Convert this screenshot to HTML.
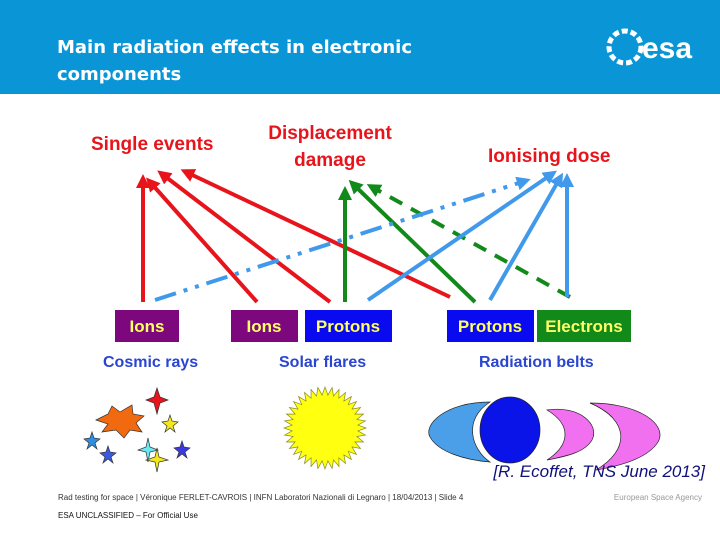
<!DOCTYPE html>
<html><head><meta charset="utf-8"><style>
body{margin:0;width:720px;height:540px;overflow:hidden;background:#fff;font-family:"Liberation Sans",sans-serif}
svg{position:absolute;left:0;top:0}
</style></head><body>
<svg width="720" height="540" viewBox="0 0 720 540">
<defs>
<marker id="hr" markerWidth="3.5" markerHeight="3.5" refX="2" refY="1.75" orient="auto" markerUnits="strokeWidth"><path d="M0,0 L3.5,1.75 L0,3.5 z" fill="#e8141c"/></marker>
<marker id="hg" markerWidth="3.5" markerHeight="3.5" refX="2" refY="1.75" orient="auto" markerUnits="strokeWidth"><path d="M0,0 L3.5,1.75 L0,3.5 z" fill="#118a1a"/></marker>
<marker id="hb" markerWidth="3.5" markerHeight="3.5" refX="2" refY="1.75" orient="auto" markerUnits="strokeWidth"><path d="M0,0 L3.5,1.75 L0,3.5 z" fill="#4199ec"/></marker>
</defs>
<rect x="0" y="0" width="720" height="94" fill="#0a96d6"/>
<text x="57" y="53" fill="#fff" font-size="18" font-weight="bold" font-family="DejaVu Sans, sans-serif">Main radiation effects in electronic</text>
<text x="57" y="80" fill="#fff" font-size="18" font-weight="bold" font-family="DejaVu Sans, sans-serif">components</text>
<g>
<circle cx="625" cy="47" r="16" fill="none" stroke="#fff" stroke-width="5" stroke-dasharray="6 3"/>
<text x="642" y="58" fill="#fff" font-size="30" font-weight="bold">esa</text>
</g>
<g font-weight="bold" fill="#e8141c" font-size="19">
<text x="91" y="150">Single events</text>
<text x="330" y="139" text-anchor="middle">Displacement</text>
<text x="330" y="166" text-anchor="middle">damage</text>
<text x="488" y="162">Ionising dose</text>
</g>
<g id="arrows"></g>
<g font-weight="bold" font-size="17" text-anchor="middle" fill="#ffff66">
<rect x="115" y="310" width="64" height="32" fill="#7d087d"/><text x="147" y="332">Ions</text>
<rect x="231" y="310" width="67" height="32" fill="#7d087d"/><text x="264" y="332">Ions</text>
<rect x="305" y="310" width="87" height="32" fill="#0a0af0"/><text x="348" y="332">Protons</text>
<rect x="447" y="310" width="87" height="32" fill="#0a0af0"/><text x="490" y="332">Protons</text>
<rect x="537" y="310" width="94" height="32" fill="#118a1a"/><text x="584" y="332">Electrons</text>
</g>
<g font-weight="bold" font-size="16" fill="#2a45d0">
<text x="103" y="367">Cosmic rays</text>
<text x="279" y="367">Solar flares</text>
<text x="479" y="367">Radiation belts</text>
</g>
<g stroke="#333" stroke-width="0.7">
<polygon points="96,420 108,414 112,406 120,412 132,405 133,414 144,416 136,423 142,432 130,430 124,438 116,430 102,432 108,424" fill="#f26a10"/>
<polygon points="157,388 160,397 168,400 160,403 157,414 154,403 146,400 154,397" fill="#e8141c"/>
<polygon points="170,415 172,421 178,422 173,426 175,432 170,428 165,432 167,426 162,422 168,421" fill="#f4e81a"/>
<polygon points="92,432 94,438 100,439 95,443 97,449 92,445 87,449 89,443 84,439 90,438" fill="#2f8ee0"/>
<polygon points="108,446 110,452 116,453 111,457 113,463 108,459 103,463 105,457 100,453 106,452" fill="#3a5ae0"/>
<polygon points="182,441 184,447 190,448 185,452 187,458 182,454 177,458 179,452 174,448 180,447" fill="#3a3ae0"/>
<polygon points="148,438 150,447 158,450 150,452 148,462 146,452 138,450 146,447" fill="#6ee8f0"/>
<polygon points="157,448 159,457 168,460 159,462 157,472 155,462 146,460 155,457" fill="#f4e81a"/>
</g>
<g id="sun"></g>
<g stroke="#222" stroke-width="0.7">
<path d="M490,402 C445,402 423,425 430,437 C438,452 465,460 490,462 C472,450 462,420 490,402 z" fill="#4a9fe8"/>
<ellipse cx="510" cy="430" rx="30" ry="33" fill="#0a14e8"/>
<path d="M547,410 C580,405 600,425 592,440 C585,452 568,456 547,460 C570,445 572,425 547,410 z" fill="#f070f0"/>
<path d="M590,403 C640,403 668,425 658,442 C648,458 620,466 596,470 C630,450 630,420 590,403 z" fill="#f070f0"/>
</g>
<text x="705" y="477" text-anchor="end" font-style="italic" font-size="17" fill="#10107a">[R. Ecoffet, TNS June 2013]</text>
<text x="58" y="500" font-size="8" fill="#333">Rad testing for space | Véronique FERLET-CAVROIS | INFN Laboratori Nazionali di Legnaro | 18/04/2013 | Slide 4</text>
<text x="58" y="518" font-size="8" fill="#111">ESA UNCLASSIFIED – For Official Use</text>
<text x="702" y="500" text-anchor="end" font-size="8" fill="#999">European Space Agency</text>
</svg>
<script>
const arrowStarts=[[143,302],[257,302],[330,302],[450,297],[345,302],[475,302],[570,297],[155,300],[368,300],[490,300],[567,297]];
const arrowEnds=[[143,180],[150,182],[162,174],[186,172],[345,192],[353,184],[372,187],[525,181],[552,174],[560,178],[567,179]];
const arrowKinds=['r','r','r','r','g','g','gd','bdd','b','b','b'];
const colors={r:'#e8141c',g:'#118a1a',b:'#4199ec'};
const g=document.getElementById('arrows');
const NS='http://www.w3.org/2000/svg';
arrowStarts.forEach((s,i)=>{
  const k=arrowKinds[i],c=k[0],e=arrowEnds[i];
  const l=document.createElementNS(NS,'line');
  l.setAttribute('x1',s[0]);l.setAttribute('y1',s[1]);l.setAttribute('x2',e[0]);l.setAttribute('y2',e[1]);
  l.setAttribute('stroke',colors[c]);l.setAttribute('stroke-width',4);
  l.setAttribute('marker-end','url(#h'+c+')');
  if(k==='gd')l.setAttribute('stroke-dasharray','14 10');
  if(k==='bdd')l.setAttribute('stroke-dasharray','22 8 4 8 4 8');
  
  
  g.appendChild(l);
});
const sun=document.getElementById('sun');
let pts=[];const n=36,cx=325,cy=428;
for(let i=0;i<n*2;i++){const r=i%2?33:41,a=i*Math.PI/n;pts.push((cx+r*Math.cos(a)).toFixed(1)+','+(cy+r*Math.sin(a)).toFixed(1));}
const p=document.createElementNS(NS,'polygon');
p.setAttribute('points',pts.join(' '));p.setAttribute('fill','#ffff10');p.setAttribute('stroke','#8a8a20');p.setAttribute('stroke-width','0.7');


sun.appendChild(p);
</script>
</body></html>
